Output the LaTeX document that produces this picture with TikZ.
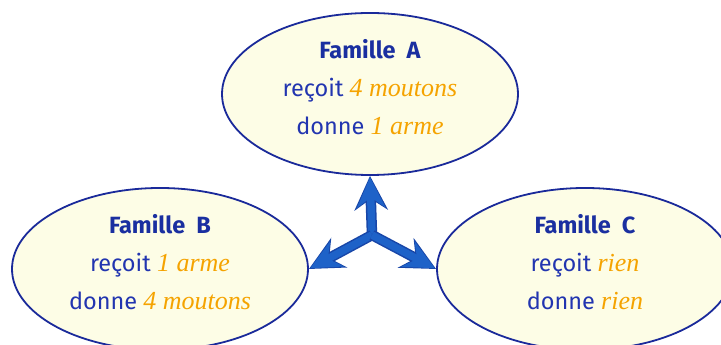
\documentclass[tikz,border=0pt]{standalone}
\usepackage{fontspec}
\newfontfamily\famsans{Fira Sans}
\newfontfamily\itserif{Liberation Serif}
\usetikzlibrary{shapes.geometric,arrows.meta}
\definecolor{titleblue}{HTML}{1A2FA0}
\definecolor{textblue}{HTML}{2235B0}
\definecolor{edgeblue}{HTML}{1A2A9A}
\definecolor{creme}{HTML}{FDFDE6}
\definecolor{orangeit}{HTML}{F5A300}
\definecolor{arrowblue}{HTML}{1E62C8}
\definecolor{arrowdark}{HTML}{1846A8}
\newcommand{\ora}[1]{{\color{orangeit}\itserif\itshape\fontsize{26}{38}\selectfont #1}}
\begin{document}
\begin{tikzpicture}[x=1pt,y=1pt,
  famille/.style={ellipse, draw=edgeblue, line width=1.8pt, fill=creme,
    minimum width=296pt, minimum height=162pt, inner sep=0pt},
  famtext/.style={align=center, inner sep=0pt, text=textblue,
    font=\famsans\fontsize{23.5}{38}\selectfont},
  darkarrow/.style={draw=arrowdark, line width=10.5pt,
    -{Stealth[length=34pt,width=33pt,inset=11pt]}},
  bigarrow/.style={draw=arrowblue, line width=7.5pt,
    -{Stealth[length=30pt,width=28pt,inset=10pt]}}]
\useasboundingbox (0,0) rectangle (721,345);
\node[famille] (A) at (370,251) {};
\node[famille] (B) at (160,76) {};
\node[famille] (C) at (585,76) {};
\node[famtext] (tA) at ([yshift=7pt]A.center) {{\bfseries\color{titleblue}Famille~~A}\\reçoit \ora{4 moutons}\\donne \ora{1 arme}};
\node[famtext] (tB) at ([yshift=7pt]B.center) {{\bfseries\color{titleblue}Famille~~B}\\reçoit \ora{1 arme}\\donne \ora{4 moutons}};
\node[famtext] (tC) at ([yshift=7pt]C.center) {{\bfseries\color{titleblue}Famille~~C}\\reçoit \ora{rien}\\donne \ora{rien}};
\coordinate (J) at (372,110);
\foreach \t in {A.south, B.east, C.west}{
  \draw[darkarrow] (J) -- (\t);
  \draw[bigarrow, shorten >=1.5pt] (J) -- (\t);
}
\end{tikzpicture}
\end{document}
